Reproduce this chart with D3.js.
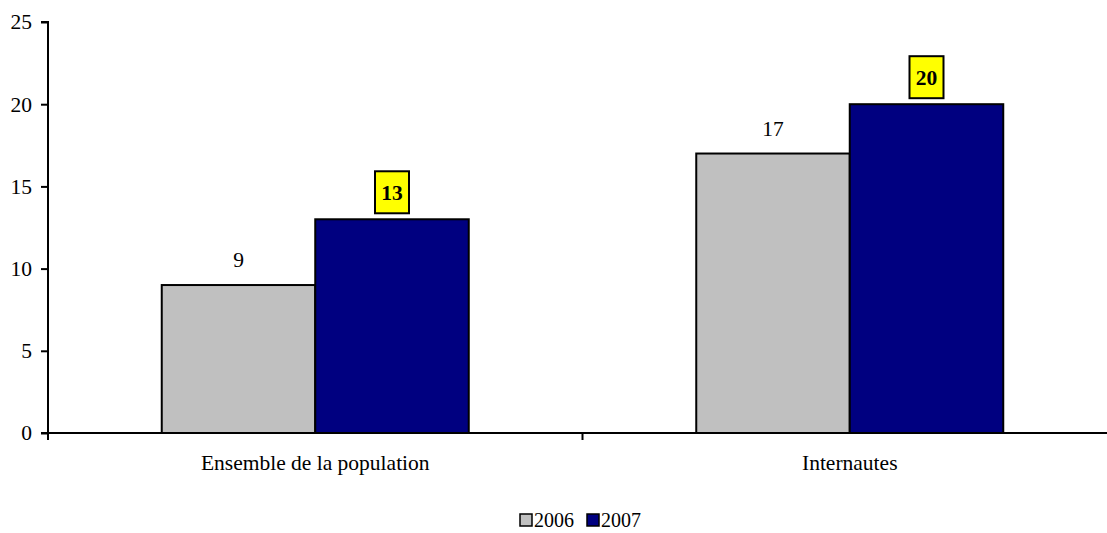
<!DOCTYPE html>
<html><head><meta charset="utf-8">
<script src="https://cdn.jsdelivr.net/npm/d3@7"></script>
<style>body{margin:0;background:#fff;} svg{display:block;} text{font-family:"Liberation Serif","Times New Roman",serif;fill:#000;}</style>
</head><body>
<svg id="c" width="1107" height="533"></svg>
<script>
const categories = ["Ensemble de la population", "Internautes"];
const seriesNames = ["2006", "2007"];
const values2006 = [9, 17];
const values2007 = [13, 20];
const yTicks = [0, 5, 10, 15, 20, 25];
const colors = ["#c0c0c0", "#000080"];

const FS = "21.5px";
const svg = d3.select("#c");
const x0 = 48, y0 = 433, yTop = 22;
const band = 534.5;
const x = d3.scaleBand().domain(categories).range([x0, x0 + band * 2]).paddingInner(0).paddingOuter(0);
const y = d3.scaleLinear().domain([0, 25]).range([y0, yTop]);
const groupW = 307;
const xs = d3.scaleBand().domain(seriesNames).range([0, groupW]).padding(0);

// y axis
const yAxis = d3.axisLeft(y).tickValues(yTicks).tickSize(7).tickPadding(9);
const ga = svg.append("g").attr("transform", `translate(${x0},0)`).call(yAxis);
ga.attr("font-family", null).attr("font-size", null);
ga.select(".domain").attr("stroke", "#000").attr("stroke-width", 2).attr("d", `M-7,${yTop}H0V${y0}`);
ga.selectAll(".tick line").attr("stroke", "#000").attr("stroke-width", 2);
ga.selectAll(".tick text").style("font-size", FS).attr("fill", "#000").attr("dy", "0.32em");

// bars
const data = [values2006, values2007];
categories.forEach((c, i) => {
  const gx = x(c) + (x.bandwidth() - groupW) / 2;
  seriesNames.forEach((s, j) => {
    const v = data[j][i];
    svg.append("rect")
      .attr("x", gx + xs(s)).attr("y", y(v))
      .attr("width", xs.bandwidth()).attr("height", y0 - y(v))
      .attr("fill", colors[j]).attr("stroke", "#000").attr("stroke-width", 2);
    const cx = gx + xs(s) + xs.bandwidth() / 2;
    if (j === 0) {
      svg.append("text").attr("x", cx).attr("y", y(v) - 18).attr("text-anchor", "middle")
        .style("font-size", FS).text(v);
    } else {
      svg.append("rect").attr("x", cx - 17).attr("y", y(v) - 48).attr("width", 34).attr("height", 42)
        .attr("fill", "#ffff00").attr("stroke", "#000").attr("stroke-width", 2);
      svg.append("text").attr("x", cx).attr("y", y(v) - 19.5).attr("text-anchor", "middle")
        .style("font-size", FS).attr("font-weight", "bold").text(v);
    }
  });
});

// x axis
svg.append("line").attr("x1", 41).attr("x2", 1107).attr("y1", y0).attr("y2", y0).attr("stroke", "#000").attr("stroke-width", 2);
svg.append("line").attr("x1", x0).attr("x2", x0).attr("y1", y0).attr("y2", y0 + 7).attr("stroke", "#000").attr("stroke-width", 2);
svg.append("line").attr("x1", x0 + band).attr("x2", x0 + band).attr("y1", y0).attr("y2", y0 + 7).attr("stroke", "#000").attr("stroke-width", 2);
categories.forEach(c => {
  svg.append("text").attr("x", x(c) + x.bandwidth() / 2).attr("y", 470).attr("text-anchor", "middle")
    .style("font-size", FS).text(c);
});

// legend
const leg = svg.append("g");
const lx = [520, 587];
seriesNames.forEach((s, j) => {
  leg.append("rect").attr("x", lx[j]).attr("y", 514).attr("width", 12).attr("height", 12)
    .attr("fill", colors[j]).attr("stroke", "#000").attr("stroke-width", 1.5);
  leg.append("text").attr("x", lx[j] + 14).attr("y", 527).style("font-size", "20px").text(s);
});
</script>
</body></html>
